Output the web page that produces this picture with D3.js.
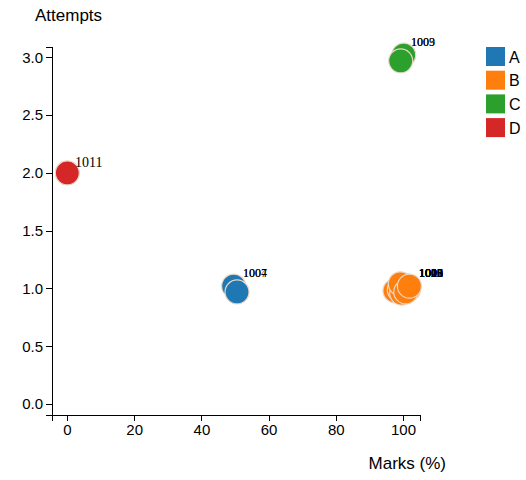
<!DOCTYPE html>
<html>
<head>
<meta charset="utf-8">
<script src="https://d3js.org/d3.v7.min.js"></script>
<style>
body { margin: 0; background: #fff; }
svg { display: block; }
.axis text { font-family: "Liberation Sans", Arial, sans-serif; font-size: 15px; fill: #000; }
.axis path, .axis line { stroke: #000; fill: none; shape-rendering: crispEdges; }
</style>
</head>
<body>
<svg id="chart" width="526" height="480"></svg>
<script>
// Data: raw values (used for labels) and jittered values (used for circles)
const ids       = ["1004","1007","1001","1002","1005","1006","1010","1012","1015","1020","1025","1029","1003","1009","1011"];
const groups    = ["A","A","B","B","B","B","B","B","B","B","B","B","C","C","D"];
const rawMarks  = [50, 50, 100, 100, 100, 100, 100, 100, 100, 100, 100, 100, 100, 100, 0];
const rawTries  = [1, 1, 1, 1, 1, 1, 1, 1, 1, 1, 1, 1, 3, 3, 2];
const marks     = [49.6, 50.6, 97.6, 98.9, 99.6, 100.3, 101.0, 101.6, 100.0, 99.2, 100.8, 101.9, 100.2, 99.3, 0.1];
const attempts  = [1.02, 0.97, 0.98, 0.99, 0.96, 1.03, 1.01, 0.99, 1.02, 1.04, 0.97, 1.02, 3.02, 2.97, 2.00];
const categories = ["A","B","C","D"];
const colors = ["#1f77b4","#ff7f0e","#2ca02c","#d62728"];
const xTicks = [0, 20, 40, 60, 80, 100];
const yTicks = [0, 0.5, 1, 1.5, 2, 2.5, 3];
const xDomain = [-4.46, 105.05];
const yDomain = [-0.095, 3.09];

const data = ids.map((id, i) => ({id, group: groups[i], rx: rawMarks[i], ry: rawTries[i], x: marks[i], y: attempts[i]}));

const margin = {top: 47, left: 52};
const width = 368, height = 368;
const svg = d3.select("#chart");
const g = svg.append("g").attr("transform", `translate(${margin.left},${margin.top})`);

const x = d3.scaleLinear().domain(xDomain).range([0, width]);
const y = d3.scaleLinear().domain(yDomain).range([height, 0]);
const color = d3.scaleOrdinal().domain(categories).range(colors);

const xAxis = g.append("g").attr("class", "axis")
  .attr("transform", `translate(0,${height})`)
  .call(d3.axisBottom(x).tickValues(xTicks).tickFormat(d3.format("d")));
xAxis.append("text")
  .attr("x", width + 26).attr("y", 54)
  .attr("text-anchor", "end")
  .style("font-size", "17px")
  .text("Marks (%)");

const yAxis = g.append("g").attr("class", "axis")
  .call(d3.axisLeft(y).tickValues(yTicks).tickFormat(d3.format(".1f")));
yAxis.append("text")
  .attr("x", -17).attr("y", -26)
  .attr("text-anchor", "start")
  .style("font-size", "17px")
  .text("Attempts");

const pts = g.append("g");
pts.selectAll("circle").data(data).enter().append("circle")
  .attr("cx", d => x(d.x))
  .attr("cy", d => y(d.y))
  .attr("r", 12)
  .attr("fill", d => color(d.group))
  .attr("stroke", "#e8d8c8")
  .attr("stroke-width", 1.2);

pts.selectAll("text").data(data).enter().append("text")
  .attr("x", d => x(d.rx) + (d.group === "B" ? 16 : 8))
  .attr("y", d => y(d.ry) - (d.group === "D" ? 6 : 11))
  .style("font-family", "'Liberation Serif', 'Times New Roman', serif")
  .style("font-size", d => d.group === "D" ? "14px" : "12px")
  .attr("fill", "#000")
  .text(d => d.id);

const legend = svg.append("g").selectAll("g").data(categories).enter().append("g")
  .attr("transform", (d, i) => `translate(0,${47 + i * 23.7})`);
legend.append("rect")
  .attr("x", 486).attr("y", 0).attr("width", 19).attr("height", 19)
  .attr("fill", d => color(d));
legend.append("text")
  .attr("x", 509).attr("y", 10).attr("dy", "0.35em")
  .style("font-family", "'Liberation Sans', Arial, sans-serif")
  .style("font-size", "16px")
  .text(d => d);
</script>
</body>
</html>
